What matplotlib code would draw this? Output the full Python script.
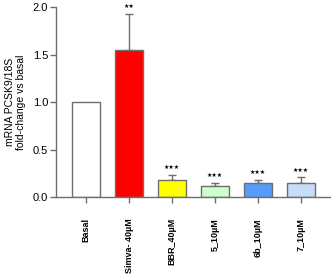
import matplotlib
matplotlib.use("Agg")
import matplotlib.pyplot as plt

categories = ["Basal", "Simva- 40µM", "BBR_40µM", "5_10µM", "6b_10µM", "7_10µM"]
values = [1.0, 1.55, 0.18, 0.12, 0.15, 0.15]
errors = [0.0, 0.38, 0.06, 0.03, 0.03, 0.06]
stars = ["", "★★", "★★★", "★★★", "★★★", "★★★"]
colors = ["#FFFFFF", "#FF0000", "#FFFF00", "#CCFFCC", "#559CFA", "#C6DCF8"]
yticks = [0.0, 0.5, 1.0, 1.5, 2.0]

plt.rcParams['font.family'] = ['Liberation Sans', 'DejaVu Sans']
fig = plt.figure(figsize=(3.31, 2.76), dpi=100)
ax = fig.add_axes([0.169, 0.285, 0.829, 0.689])

axcol = "#6e6e6e"
x = list(range(len(categories)))
ax.bar(x, values, width=0.665, color=colors, edgecolor=axcol, linewidth=1.0, zorder=2)
for xi, v, e in zip(x, values, errors):
    if e > 0:
        ax.errorbar(xi, v, yerr=[[0], [e]], fmt='none', ecolor=axcol,
                    elinewidth=1.0, capsize=2.6, capthick=1.0, zorder=1)
for xi, v, e, s in zip(x, values, errors, stars):
    if s:
        ax.annotate(s, (xi, v + e), xytext=(0, 3.5), textcoords='offset points',
                    ha='center', va='bottom', fontsize=4.3, family='DejaVu Sans',
                    color='black')

ax.set_xlim(-0.7, 5.68)
ax.set_ylim(0, 2.0)
ax.set_yticks(yticks)
ax.set_yticklabels([f"{t:.1f}" for t in yticks], fontsize=8)
ax.set_xticks(x)
ax.set_xticklabels(categories, rotation=90, fontsize=6.5, fontweight='bold')
for sp in ['top', 'right']:
    ax.spines[sp].set_visible(False)
for sp in ['left', 'bottom']:
    ax.spines[sp].set_color(axcol)
    ax.spines[sp].set_linewidth(1.0)
ax.tick_params(axis='both', colors=axcol, length=4, width=1.0, labelcolor='black')
ax.tick_params(axis='y', pad=1.5)
ax.tick_params(axis='x', pad=11)
ax.set_ylabel("mRNA PCSK9/18S\nfold-change vs basal", fontsize=7.5, labelpad=5,
              linespacing=1.1)

fig.savefig("out.png", dpi=100)
